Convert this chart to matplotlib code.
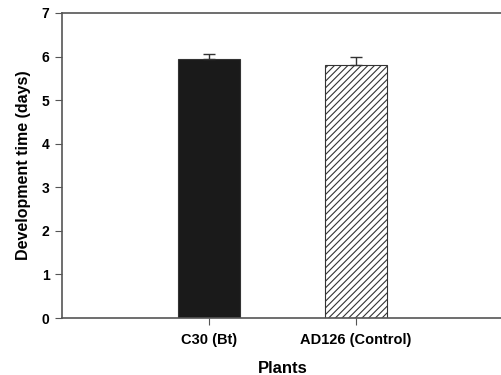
import matplotlib
matplotlib.use("Agg")
import matplotlib.pyplot as plt

plants = ["C30 (Bt)", "AD126 (Control)"]
dev_time = [5.94, 5.81]
err = [0.11, 0.17]

plt.rcParams['font.family'] = ['Liberation Sans', 'DejaVu Sans']
plt.rcParams['hatch.linewidth'] = 0.8

fig = plt.figure(figsize=(5.01, 3.75), dpi=100)
ax = fig.add_axes([62/501, 57/375, 441/501, 305/375])

pos = [1, 2]
ax.bar(pos[0], dev_time[0], width=0.415, color="#1a1a1a", edgecolor="#333333", linewidth=0.8,
       yerr=[[0], [err[0]]], error_kw=dict(ecolor="#333333", elinewidth=1, capsize=4, capthick=1))
ax.bar(pos[1], dev_time[1], width=0.415, color="white", edgecolor="#333333", linewidth=0.8, hatch="/////",
       yerr=[[0], [err[1]]], error_kw=dict(ecolor="#333333", elinewidth=1, capsize=4, capthick=1))

ax.set_xlim(0, 3)
ax.set_ylim(0, 7)
ax.set_xticks(pos)
ax.set_xticklabels(plants, fontweight="bold", fontsize=10.5)
ax.set_yticks(range(0, 8))
ax.set_yticklabels([str(i) for i in range(8)], fontweight="bold", fontsize=10)
ax.tick_params(axis="x", direction="out", length=5, color="#555555", pad=6)
ax.tick_params(axis="y", direction="out", length=5, color="#555555", pad=4)

for s in ["left", "top", "bottom"]:
    ax.spines[s].set_color("#555555")
    ax.spines[s].set_linewidth(1.2)
ax.spines["right"].set_visible(False)

ax.set_xlabel("Plants", fontweight="bold", fontsize=12)
ax.xaxis.set_label_coords(0.5, -0.14)
ax.set_ylabel("Development time (days)", fontweight="bold", fontsize=11.5, labelpad=8)

fig.savefig("out.png", dpi=100)
